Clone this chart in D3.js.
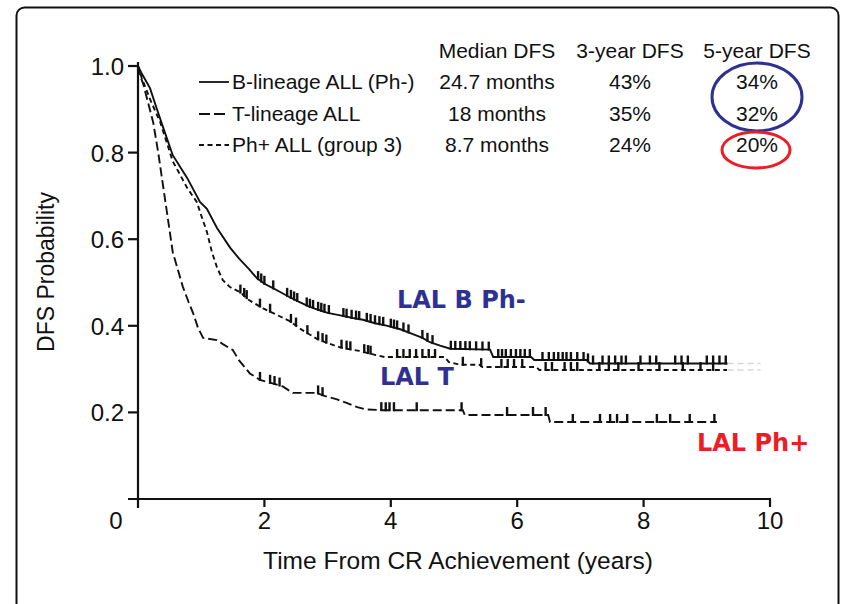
<!DOCTYPE html>
<html>
<head>
<meta charset="utf-8">
<script src="https://cdn.jsdelivr.net/npm/d3@7"></script>
<style>
  html, body { margin: 0; padding: 0; background: #fff; }
  svg { display: block; }
</style>
</head>
<body>
<svg id="chart" width="848" height="604"></svg>
<script>
// Kaplan–Meier disease-free survival, [years from CR, probability]
const bLineage = [
  [0,1],[0.05,0.985],[0.19,0.949],[0.3,0.9],[0.4,0.857],[0.55,0.794],[0.78,0.741],
  [0.98,0.686],[1.09,0.67],[1.25,0.626],[1.46,0.58],[1.6,0.555],[1.75,0.532],[1.88,0.51],
  [2.0,0.497],[2.12,0.488],[2.25,0.478],[2.4,0.466],[2.55,0.455],[2.7,0.445],[2.85,0.437],
  [3.0,0.43],[3.2,0.424],[3.4,0.418],[3.56,0.414],[3.75,0.406],[3.95,0.4],[4.15,0.392],
  [4.35,0.381],[4.5,0.372],[4.62,0.362],[4.78,0.354],[4.94,0.347],[5.57,0.345],[5.62,0.328],
  [6.22,0.328],[6.27,0.321],[7.1,0.321],[7.15,0.313],[9.33,0.313]
];
const tLineage = [
  [0,1],[0.06,0.972],[0.2,0.92],[0.35,0.871],[0.55,0.78],[0.78,0.718],[0.93,0.686],
  [1.0,0.655],[1.09,0.617],[1.17,0.57],[1.25,0.535],[1.34,0.506],[1.45,0.49],[1.61,0.478],
  [1.75,0.46],[1.98,0.44],[2.2,0.425],[2.41,0.41],[2.6,0.39],[2.83,0.37],[3.0,0.36],
  [3.2,0.35],[3.5,0.342],[3.75,0.333],[3.9,0.328],[4.85,0.328],[4.92,0.316],[5.1,0.31],
  [5.4,0.31],[5.45,0.305],[6.3,0.305],[6.35,0.298],[9.32,0.298]
];
const phPositive = [
  [0,1],[0.04,0.975],[0.08,0.96],[0.16,0.915],[0.24,0.87],[0.32,0.8],[0.4,0.72],[0.46,0.66],
  [0.55,0.57],[0.63,0.53],[0.71,0.49],[0.8,0.455],[0.87,0.43],[0.95,0.395],[1.03,0.372],
  [1.25,0.367],[1.35,0.357],[1.5,0.344],[1.6,0.32],[1.77,0.29],[1.93,0.275],[2.1,0.268],
  [2.29,0.26],[2.45,0.245],[2.83,0.245],[2.95,0.238],[3.15,0.23],[3.3,0.222],[3.47,0.212],
  [3.6,0.207],[3.88,0.205],[5.14,0.205],[5.17,0.194],[6.49,0.194],[6.52,0.178],[9.16,0.178]
];

// censored observations (years)
const bCensor = [1.9,1.95,2.0,2.14,2.36,2.42,2.47,2.52,2.67,2.72,2.77,2.85,2.9,2.95,3.02,
  3.25,3.3,3.38,3.45,3.5,3.62,3.68,3.75,3.82,3.88,4.0,4.05,4.1,4.2,4.28,4.5,4.58,4.66,
  4.95,5.02,5.1,5.18,5.25,5.35,5.45,5.55,5.7,5.76,5.82,5.9,5.98,6.05,6.12,6.2,6.4,6.5,
  6.58,6.65,6.72,6.78,6.85,6.95,7.05,7.12,7.2,7.35,7.45,7.55,7.65,7.72,7.95,8.1,8.2,
  8.5,8.6,8.7,9.0,9.1,9.2,9.3];
const tCensor = [1.62,1.68,1.72,1.93,2.09,2.42,2.5,2.68,2.85,2.92,2.98,3.22,3.3,3.36,3.58,
  3.64,3.68,4.1,4.2,4.3,4.4,4.5,4.6,4.7,5.14,5.43,5.75,5.85,5.95,6.08,6.45,6.55,6.75,
  6.85,6.95,7.3,7.45,7.6,7.92,8.25,8.62,8.9,9.1];
const phCensor = [1.93,2.09,2.16,2.24,2.85,2.92,3.85,3.92,3.98,4.05,4.41,5.12,5.84,6.25,
  6.45,6.88,7.31,7.47,7.58,7.74,8.21,8.42,8.73,9.12];

// faint follow-up beyond the last marks
const faintTail = [9.33, 9.85];

const xTicks = [2, 4, 6, 8, 10];
const yTicks = [0.2, 0.4, 0.6, 0.8, 1.0];

const tableHeader = ["Median DFS", "3-year DFS", "5-year DFS"];
const tableGroups = ["B-lineage ALL (Ph-)", "T-lineage ALL", "Ph+ ALL (group 3)"];
const medianDFS = ["24.7 months", "18 months", "8.7 months"];
const dfs3 = ["43%", "35%", "24%"];
const dfs5 = ["34%", "32%", "20%"];

const FONT = "'Liberation Sans', Arial, Helvetica, sans-serif";
const HAND = "'Comic Sans MS', 'DejaVu Sans', sans-serif";
const INK = "#111";

const svg = d3.select("#chart");

// outer frame
svg.append("rect")
  .attr("x", 16.5).attr("y", 7.5).attr("width", 822).attr("height", 660)
  .attr("rx", 8).attr("fill", "#fff").attr("stroke", INK).attr("stroke-width", 2);

const x = d3.scaleLinear().domain([0, 10]).range([138, 770]);
const y = d3.scaleLinear().domain([0, 1]).range([499, 66]);

// axes
const axisG = svg.append("g").attr("stroke", INK).attr("stroke-width", 2.2);
axisG.append("line").attr("x1", x(0)).attr("x2", x(0)).attr("y1", y(1) - 4).attr("y2", y(0) + 9);
axisG.append("line").attr("x1", x(0) - 10).attr("x2", x(10) + 1).attr("y1", y(0)).attr("y2", y(0));
axisG.selectAll(".yt").data(yTicks).join("line")
  .attr("x1", x(0) - 10).attr("x2", x(0)).attr("y1", d => y(d)).attr("y2", d => y(d));
axisG.selectAll(".xt").data(xTicks).join("line")
  .attr("x1", d => x(d)).attr("x2", d => x(d)).attr("y1", y(0)).attr("y2", y(0) + 8);

const labels = svg.append("g").attr("font-family", FONT).attr("fill", INK);
labels.selectAll(".ylab").data(yTicks).join("text")
  .attr("x", x(0) - 14).attr("y", d => y(d) + 9)
  .attr("text-anchor", "end").attr("font-size", 24)
  .text(d3.format(".1f"));
labels.selectAll(".xlab").data(xTicks).join("text")
  .attr("x", d => x(d)).attr("y", 529)
  .attr("text-anchor", "middle").attr("font-size", 24)
  .text(d => d);
labels.append("text").attr("x", 116).attr("y", 529)
  .attr("text-anchor", "middle").attr("font-size", 24).text("0");

labels.append("text").attr("x", 458).attr("y", 569)
  .attr("text-anchor", "middle").attr("font-size", 24.5)
  .text("Time From CR Achievement (years)");
labels.append("text")
  .attr("transform", "translate(54,272) rotate(-90)")
  .attr("text-anchor", "middle").attr("font-size", 23)
  .text("DFS Probability");

// curves
const line = d3.line().x(d => x(d[0])).y(d => y(d[1]));
const series = [
  { data: bLineage, censor: bCensor, dash: null },
  { data: tLineage, censor: tCensor, dash: "5,3.5" },
  { data: phPositive, censor: phCensor, dash: "9,4" }
];

function valueAt(data, t) {
  const i = d3.bisector(d => d[0]).right(data, t);
  if (i <= 0) return data[0][1];
  if (i >= data.length) return data[data.length - 1][1];
  const a = data[i - 1], b = data[i];
  return a[1] + (b[1] - a[1]) * (t - a[0]) / (b[0] - a[0]);
}

const plot = svg.append("g").attr("fill", "none").attr("stroke", INK);
series.forEach(s => {
  plot.append("path").attr("d", line(s.data))
    .attr("stroke-width", 1.9)
    .attr("stroke-dasharray", s.dash);
  plot.selectAll(null).data(s.censor).join("line")
    .attr("x1", d => x(d)).attr("x2", d => x(d))
    .attr("y1", d => y(valueAt(s.data, d)) + 1)
    .attr("y2", d => y(valueAt(s.data, d)) - 8)
    .attr("stroke-width", 2.4);
});

// faint continuation of the two upper curves
[bLineage, tLineage].forEach(d => {
  const v = d[d.length - 1][1];
  plot.append("line")
    .attr("x1", x(faintTail[0])).attr("x2", x(faintTail[1]))
    .attr("y1", y(v)).attr("y2", y(v))
    .attr("stroke", "#d8d8d8").attr("stroke-width", 1.5).attr("stroke-dasharray", "6,4");
});

// summary table with legend keys
const table = svg.append("g").attr("font-family", FONT).attr("fill", INK).attr("font-size", 21);
const colX = [497, 630, 757];
const headY = 58;
const rowY = [89, 121, 152];
const keyDash = [null, "11,4", "5,3.5"];

table.selectAll(".hd").data(tableHeader).join("text")
  .attr("x", (d, i) => colX[i]).attr("y", headY)
  .attr("text-anchor", "middle").text(d => d);

tableGroups.forEach((g, i) => {
  table.append("line")
    .attr("x1", 199).attr("x2", 229).attr("y1", rowY[i] - 7).attr("y2", rowY[i] - 7)
    .attr("stroke", INK).attr("stroke-width", 1.8).attr("stroke-dasharray", keyDash[i]);
  table.append("text").attr("x", 232).attr("y", rowY[i]).text(g);
  [medianDFS[i], dfs3[i], dfs5[i]].forEach((v, j) => {
    table.append("text").attr("x", colX[j]).attr("y", rowY[i])
      .attr("text-anchor", "middle").text(v);
  });
});

// highlight ellipses around 5-year DFS
svg.append("ellipse").attr("cx", 757).attr("cy", 97).attr("rx", 45).attr("ry", 34)
  .attr("fill", "none").attr("stroke", "#2e3192").attr("stroke-width", 3);
svg.append("ellipse").attr("cx", 756).attr("cy", 150).attr("rx", 34).attr("ry", 18)
  .attr("fill", "none").attr("stroke", "#ee1c24").attr("stroke-width", 3);

// curve annotations
const notes = svg.append("g").attr("font-family", HAND).attr("font-weight", "bold").attr("font-size", 24);
notes.append("text").attr("x", 397).attr("y", 308).attr("fill", "#2e3192").text("LAL B Ph-");
notes.append("text").attr("x", 380).attr("y", 385).attr("fill", "#2e3192").text("LAL T");
notes.append("text").attr("x", 697).attr("y", 451).attr("fill", "#ee1c24").text("LAL Ph+");
</script>
</body>
</html>
